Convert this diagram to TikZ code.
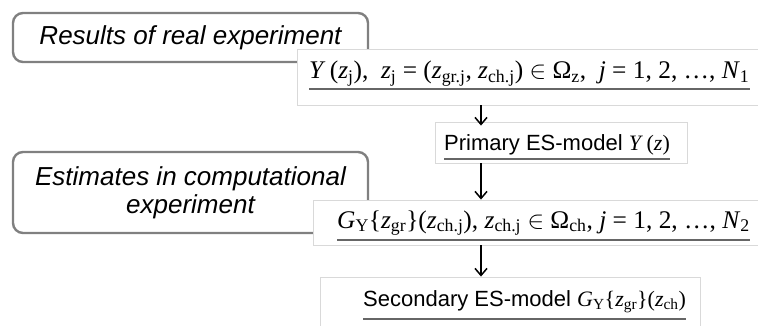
\documentclass[tikz,border=0pt]{standalone}
\usepackage{fontspec}
\setmainfont{Liberation Serif}
\setsansfont{Liberation Sans}
\usetikzlibrary{arrows.meta}

\newcommand{\iv}[1]{\textit{#1}}
\newcommand{\sbs}[1]{\textsubscript{#1}}

\tikzset{
  groupbox/.style={draw=black!50, line width=2.4pt, rounded corners=10pt, fill=white,
    font=\sffamily\itshape\fontsize{26}{28}\selectfont, align=center, inner sep=0pt},
  databox/.style={draw=black!15, line width=0.9pt, fill=white, inner sep=0pt},
  formula/.style={font=\fontsize{25.4}{28}\selectfont, inner sep=0pt},
  modeltext/.style={font=\sffamily\fontsize{22}{26}\selectfont, inner sep=0pt},
  uline/.style={draw=black!60, line width=2pt},
  flow/.style={-{Straight Barb[length=7pt,width=12pt]}, line width=1.5pt}
}

\begin{document}
\begin{tikzpicture}[x=1pt,y=-1pt]
    \useasboundingbox (0,0) rectangle (758,326);
    % upper group: real experiment
    \node[groupbox, minimum width=355pt, minimum height=49pt] (real) at (190.5,37.5) {Results of real experiment};
    \node[databox, minimum width=463pt, minimum height=56pt] (samplebox) at (528.5,77) {};
    \node[formula, anchor=base west] (sample) at (309,79)
        {\iv{Y}\,(\iv{z}\sbs{j}),\ \ \iv{z}\sbs{j} = (\iv{z}\sbs{gr.j}, \iv{z}\sbs{ch.j}) $\in$ Ω\sbs{z},\ \ \iv{j} = 1, 2, …, \iv{N}\sbs{1}};
    \draw[uline] ([yshift=-10pt]sample.base west) -- ([yshift=-10pt]sample.base east);

    \node[databox, minimum width=252pt, minimum height=41pt] (primarybox) at (561,142.5) {};
    \node[modeltext, anchor=base west] (primary) at (444,150) {Primary ES-model \textrm{\iv{Y}\,(\iv{z})}};
    \draw[uline] ([yshift=-9pt]primary.base west) -- ([yshift=-9pt]primary.base east);

    % lower group: computational experiment
    \node[groupbox, minimum width=355pt, minimum height=81pt] (comp) at (190.5,192.5) {Estimates in computational\\experiment};
    \node[databox, minimum width=447pt, minimum height=45pt] (estbox) at (536.5,222.5) {};
    \node[formula, anchor=base west] (est) at (337,228)
        {\iv{G}\sbs{Y}\{\iv{z}\sbs{gr}\}(\iv{z}\sbs{ch.j}), \iv{z}\sbs{ch.j} $\in$ Ω\sbs{ch}, \iv{j} = 1, 2, …, \iv{N}\sbs{2}};
    \draw[uline] ([yshift=-12pt]est.base west) -- ([yshift=-12pt]est.base east);

    \node[databox, minimum width=380pt, minimum height=68pt] (secondbox) at (510,311) {};
    \node[modeltext, anchor=base west] (second) at (363,306)
        {Secondary ES-model \textrm{\iv{G}\sbs{Y}\{\iv{z}\sbs{gr}\}(\iv{z}\sbs{ch})}};
    \draw[uline] ([yshift=-13pt]second.base west) -- ([yshift=-13pt]second.base east);

    % arrows
    \coordinate (axis) at (481,0);
    \draw[flow] (samplebox.south -| axis) -- ([yshift=-4pt]primarybox.north -| axis);
    \draw[flow] (primarybox.south -| axis) -- (estbox.north -| axis);
    \draw[flow] (estbox.south -| axis) -- (secondbox.north -| axis);
\end{tikzpicture}
\end{document}
